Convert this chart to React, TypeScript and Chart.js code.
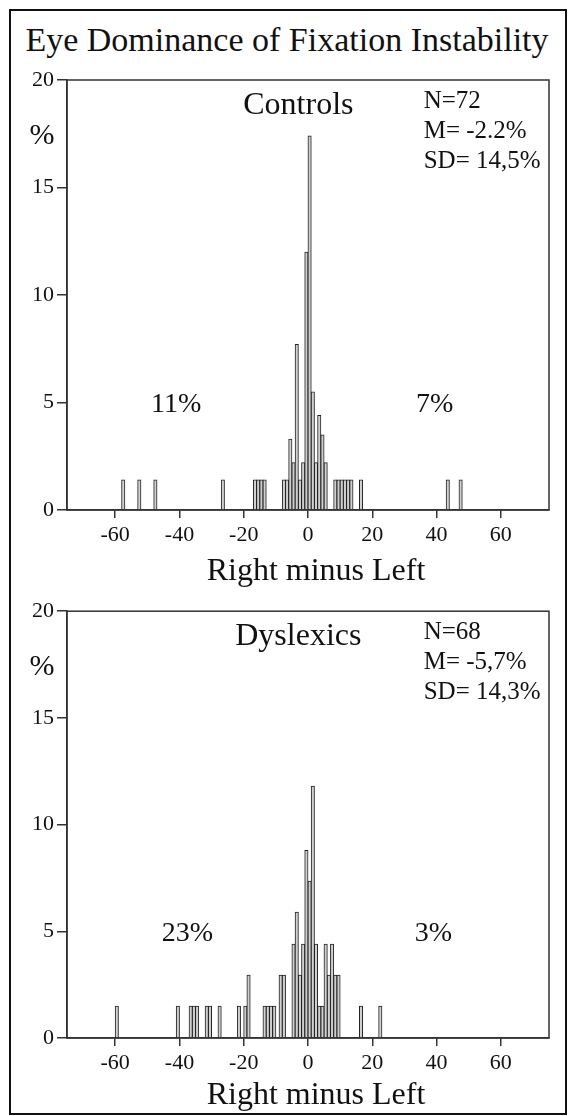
import React, { useEffect, useRef } from "react";
import { Chart, registerables } from "chart.js";

Chart.register(...registerables);

const FONT = "'Liberation Serif', 'Times New Roman', Times, serif";

// ---- data ----
const xTickValues = [-60, -40, -20, 0, 20, 40, 60];
const yTickValues = [0, 5, 10, 15, 20];

const controlsBins = [
  -57.5, -52.5, -47.5, -26.5, -16.5, -15.5, -14.5, -13.5,
  -7.5, -6.5, -5.5, -4.5, -3.5, -2.5, -1.5, -0.5, 0.5, 1.5, 2.5, 3.5, 4.5, 5.5,
  8.5, 9.5, 10.5, 11.5, 12.5, 13.5, 16.5, 43.5, 47.5,
];
const controlsPct = [
  1.4, 1.4, 1.4, 1.4, 1.4, 1.4, 1.4, 1.4,
  1.4, 1.4, 3.3, 2.2, 7.7, 1.4, 2.2, 12.0, 17.4, 5.5, 2.2, 4.4, 3.5, 2.2,
  1.4, 1.4, 1.4, 1.4, 1.4, 1.4, 1.4, 1.4, 1.4,
];

const dyslexicsBins = [
  -59.5, -40.5, -36.5, -35.5, -34.5, -31.5, -30.5, -27.5, -21.5, -19.5, -18.5,
  -13.5, -12.5, -11.5, -10.5, -8.5, -7.5,
  -4.5, -3.5, -2.5, -1.5, -0.5, 0.5, 1.5, 2.5, 3.5, 4.5, 5.5, 6.5, 7.5, 8.5, 9.5,
  16.5, 22.5,
];
const dyslexicsPct = [
  1.5, 1.5, 1.5, 1.5, 1.5, 1.5, 1.5, 1.5, 1.5, 1.5, 2.95,
  1.5, 1.5, 1.5, 1.5, 2.95, 2.95,
  4.4, 5.9, 2.95, 4.4, 8.8, 7.35, 11.8, 4.4, 1.5, 1.5, 4.4, 2.95, 4.4, 2.95, 2.95,
  1.5, 1.5,
];

const controlsStats = ["N=72", "M= -2.2%", "SD= 14,5%"];
const dyslexicsStats = ["N=68", "M= -5,7%", "SD= 14,3%"];

const mainTitle = "Eye Dominance of Fixation Instability";
const xAxisTitle = "Right minus Left";
const yAxisSymbol = "%";

type PanelProps = {
  top: number;
  height: number;
  padTop: number;
  padBottom: number;
  xAxisH: number;
  titleOffset: number;
  bins: number[];
  pct: number[];
  group: string;
  stats: string[];
  leftLabel: string;
  rightLabel: string;
  leftX: number;
  rightX: number;
};

function Panel(p: PanelProps) {
  const ref = useRef<HTMLCanvasElement | null>(null);
  useEffect(() => {
    if (!ref.current) return;
    const annot = {
      id: "annot",
      afterDraw(chart: any) {
        const { ctx, chartArea: a, scales } = chart;
        const x = scales.x;
        const y = scales.y;
        ctx.save();
        ctx.strokeStyle = "#333";
        ctx.lineWidth = 1.5;
        ctx.strokeRect(a.left, a.top, a.right - a.left, a.bottom - a.top);
        ctx.fillStyle = "#111";
        ctx.textBaseline = "middle";
        ctx.textAlign = "center";
        ctx.font = `32px ${FONT}`;
        ctx.fillText(p.group, x.getPixelForValue(-3), y.getPixelForValue(18.8));
        ctx.font = `25px ${FONT}`;
        ctx.textAlign = "left";
        const sy = [19.0, 17.6, 16.2];
        p.stats.forEach((s, i) => ctx.fillText(s, x.getPixelForValue(36), y.getPixelForValue(sy[i])));
        ctx.font = `28px ${FONT}`;
        ctx.textAlign = "center";
        ctx.fillText(p.leftLabel, x.getPixelForValue(p.leftX), y.getPixelForValue(4.9));
        ctx.fillText(p.rightLabel, x.getPixelForValue(p.rightX), y.getPixelForValue(4.9));
        ctx.font = `30px ${FONT}`;
        ctx.fillText(yAxisSymbol, a.left - 25, y.getPixelForValue(17.4));
        ctx.font = `32px ${FONT}`;
        ctx.fillText(xAxisTitle, (a.left + a.right) / 2 + 8, a.bottom + p.titleOffset);
        ctx.restore();
      },
    };
    const chart = new Chart(ref.current, {
      type: "bar",
      data: {
        datasets: [
          {
            data: p.bins.map((b, i) => ({ x: b, y: p.pct[i] })),
            backgroundColor: "#cfcfcf",
            borderColor: "#222",
            borderWidth: 1,
            barThickness: 3.4,
          },
        ],
      },
      options: {
        animation: false,
        responsive: false,
        devicePixelRatio: 1,
        layout: { padding: { top: p.padTop, bottom: p.padBottom, left: 0, right: 25 } },
        plugins: { legend: { display: false }, tooltip: { enabled: false }, title: { display: false } },
        scales: {
          x: {
            type: "linear",
            min: -75,
            max: 75,
            offset: false,
            afterBuildTicks: (s: any) => {
              s.ticks = xTickValues.map((v) => ({ value: v }));
            },
            afterFit: (s: any) => {
              s.height = p.xAxisH;
            },
            grid: { offset: false, drawOnChartArea: false, drawTicks: true, tickLength: 8, color: "#333", lineWidth: 1.5 },
            border: { display: true, color: "#333", width: 1.5 },
            ticks: {
              font: { family: FONT, size: 22 },
              color: "#111",
              padding: 4,
              maxRotation: 0,
              autoSkip: false,
              callback: (v: any) => String(v),
            },
          },
          y: {
            min: 0,
            max: 20,
            afterBuildTicks: (s: any) => {
              s.ticks = yTickValues.map((v) => ({ value: v }));
            },
            afterFit: (s: any) => {
              s.width = 67;
            },
            grid: { drawOnChartArea: false, drawTicks: true, tickLength: 10, color: "#333", lineWidth: 1.5 },
            border: { display: true, color: "#333", width: 1.5 },
            ticks: {
              font: { family: FONT, size: 22 },
              color: "#111",
              padding: 3,
              callback: (v: any) => String(v),
            },
          },
        },
      },
      plugins: [annot],
    } as any);
    return () => chart.destroy();
  }, []);
  return (
    <canvas
      ref={ref}
      width={574}
      height={p.height}
      style={{ position: "absolute", left: 0, top: p.top, width: 574, height: p.height }}
    />
  );
}

export default function App() {
  return (
    <div style={{ position: "absolute", left: 0, top: 0, width: 574, height: 1116, background: "#fff", overflow: "hidden" }}>
      <div
        style={{
          position: "absolute",
          left: 0,
          top: 18,
          width: 574,
          textAlign: "center",
          fontFamily: FONT,
          fontSize: 34,
          lineHeight: "44px",
          color: "#111",
          whiteSpace: "nowrap",
        }}
      >
        {mainTitle}
      </div>
      <Panel
        top={60}
        height={535}
        padTop={20}
        padBottom={5}
        xAxisH={80}
        titleOffset={62}
        bins={controlsBins}
        pct={controlsPct}
        group="Controls"
        stats={controlsStats}
        leftLabel="11%"
        rightLabel="7%"
        leftX={-41}
        rightX={39.4}
      />
      <Panel
        top={595}
        height={521}
        padTop={13}
        padBottom={8}
        xAxisH={70}
        titleOffset={58}
        bins={dyslexicsBins}
        pct={dyslexicsPct}
        group="Dyslexics"
        stats={dyslexicsStats}
        leftLabel="23%"
        rightLabel="3%"
        leftX={-37.5}
        rightX={39}
      />
      <div
        style={{
          position: "absolute",
          left: 9,
          top: 9,
          width: 558,
          height: 1106,
          boxSizing: "border-box",
          border: "2px solid #111",
          pointerEvents: "none",
        }}
      />
    </div>
  );
}
